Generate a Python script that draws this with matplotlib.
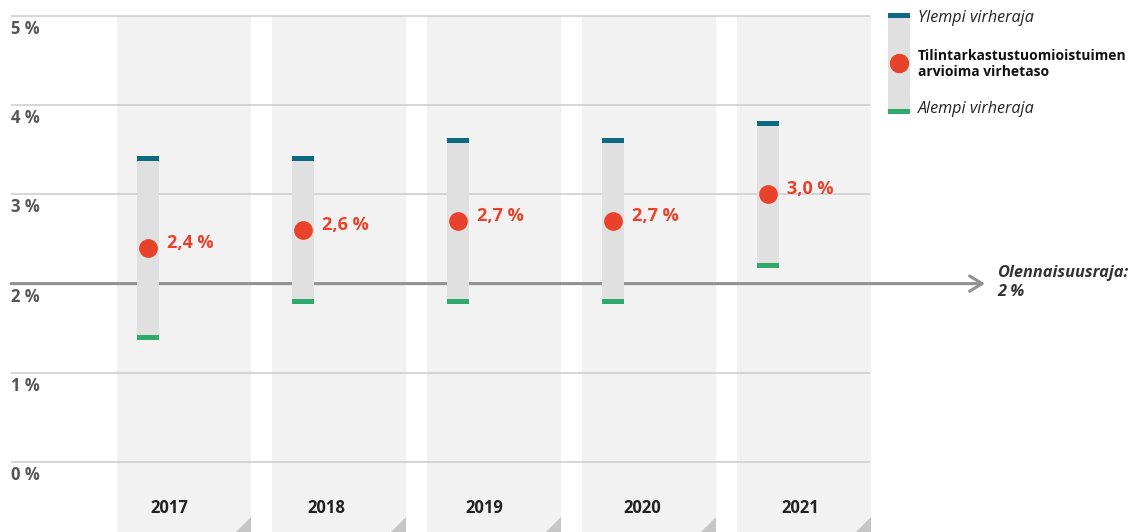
import matplotlib.pyplot as plt
from matplotlib.patches import Rectangle, Polygon

plt.rcParams['font.family'] = ['Open Sans', 'DejaVu Sans']

# Tiedot
vuodet = ['2017', '2018', '2019', '2020', '2021']
virhetaso = [2.4, 2.6, 2.7, 2.7, 3.0]
ylempi = [3.4, 3.4, 3.6, 3.6, 3.8]
alempi = [1.4, 1.8, 1.8, 1.8, 2.2]
tasot = [0, 1, 2, 3, 4, 5]
olennaisuus = 2.0

# Värit
TEAL = '#0d6a80'
GREEN = '#2ea96b'
RED = '#e8432a'
BAR = '#e0e0e0'
BAND = '#f2f2f2'

W, H = 1134, 532
px = 1 / 155.0   # x-yksikkö per pikseli
py = 1 / 89.2    # y-yksikkö per pikseli

fig = plt.figure(figsize=(W / 100, H / 100), dpi=100)
ax = fig.add_axes([0, 0, 1, 1])
ax.set_xlim(-184 * px, (W - 184) * px)
ax.set_ylim(-70 * py, 462 * py)
ax.axis('off')

ybot = -70 * py
half = 67 * px

# taustakaistat ja kulmakolmiot
for i in range(len(vuodet)):
    ax.add_patch(Rectangle((i - half, ybot), 2 * half, tasot[-1] - ybot,
                           color=BAND, lw=0, zorder=0))
    r = i + half
    ax.add_patch(Polygon([(r - 15 * px, ybot), (r, ybot), (r, ybot + 15 * py)],
                         closed=True, color='#c6c6c6', lw=0, zorder=1))
    # vuosien nimiöt hieman vasemmalla kaistan keskeltä
    ax.text(i * 157.75 * px - 15 * px, -46 * py, vuodet[i], ha='center', va='center',
            fontsize=12, weight='bold', color='#222222')

# apuviivat
gx0, gx1 = (11 - 184) * px, (870 - 184) * px
ax.hlines(tasot, gx0, gx1, color='#cfcfcf', lw=1.2, zorder=2)
for t in tasot:
    ax.text(gx0, t - 13 * py, f'{t} %', ha='left', va='center', fontsize=12,
            weight='bold', color='#555555')

# olennaisuusraja
ax.annotate('', xy=((985 - 184) * px, olennaisuus), xytext=(gx0, olennaisuus),
            arrowprops=dict(arrowstyle='->,head_length=0.9,head_width=0.55',
                            color='#929292', lw=2.2, shrinkA=0, shrinkB=0),
            zorder=3)
ax.text((997 - 184) * px, olennaisuus + 1 * py, 'Olennaisuusraja:\n2 %', ha='left',
        va='center', fontsize=11.8, weight='bold', style='italic', color='#333333',
        linespacing=1.3)

# virhevälit
bw = 22 * px
for i, (v, hi, lo) in enumerate(zip(virhetaso, ylempi, alempi)):
    xc = i - 36 * px
    ax.add_patch(Rectangle((xc - bw / 2, lo), bw, hi - lo, color=BAR, lw=0, zorder=4))
    ax.add_patch(Rectangle((xc - bw / 2, hi - 2.5 * py), bw, 5 * py, color=TEAL, lw=0, zorder=5))
    ax.add_patch(Rectangle((xc - bw / 2, lo - 2.5 * py), bw, 5 * py, color=GREEN, lw=0, zorder=5))
    ax.plot(xc, v, 'o', ms=13.5, color=RED, mec='none', zorder=6)
    ax.text(xc + 19 * px, v + 5 * py, f'{v:.1f} %'.replace('.', ','), ha='left',
            va='center', fontsize=13, weight='bold', color=RED, zorder=6)

# selite
lx = (899 - 184) * px
ltop = (462 - 15) * py
lbot = (462 - 111) * py
ax.add_patch(Rectangle((lx - bw / 2, lbot), bw, ltop - lbot, color=BAR, lw=0, zorder=4))
ax.add_patch(Rectangle((lx - bw / 2, ltop - 2.5 * py), bw, 5 * py, color=TEAL, lw=0, zorder=5))
ax.add_patch(Rectangle((lx - bw / 2, lbot - 2.5 * py), bw, 5 * py, color=GREEN, lw=0, zorder=5))
ax.plot(lx, (462 - 63) * py, 'o', ms=14, color=RED, mec='none', zorder=6)
tx = (918 - 184) * px
ax.text(tx, (462 - 18) * py, 'Ylempi virheraja', ha='left', va='center', fontsize=11.6,
        style='italic', color='#222222')
ax.text(tx, (462 - 64) * py, 'Tilintarkastustuomioistuimen\narvioima virhetaso', ha='left',
        va='center', fontsize=10, weight='bold', color='#111111', linespacing=1.2)
ax.text(tx, (462 - 109) * py, 'Alempi virheraja', ha='left', va='center', fontsize=11.6,
        style='italic', color='#222222')

fig.savefig('out.png', dpi=100)
